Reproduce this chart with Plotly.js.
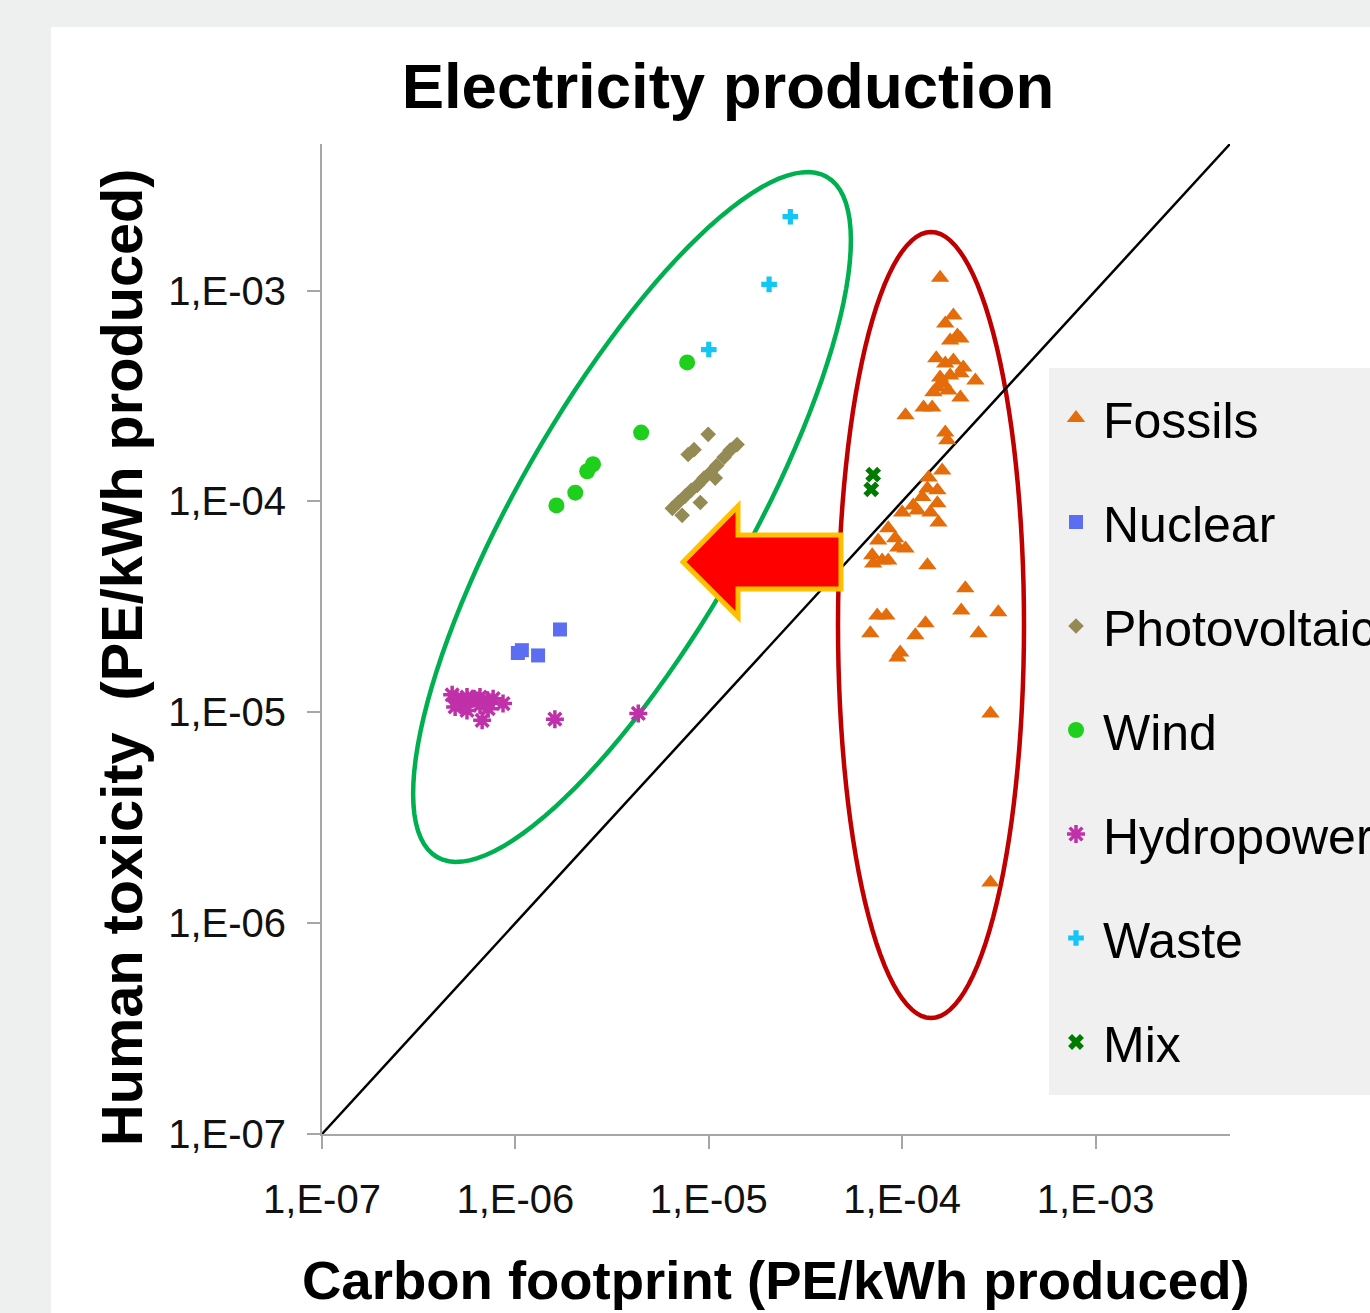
<!DOCTYPE html>
<html><head><meta charset="utf-8">
<script src="https://cdn.plot.ly/plotly-3.0.1.min.js"></script>
<style>html,body{margin:0;padding:0;background:#eef0ef;overflow:hidden}</style>
</head><body><div id="chart" style="width:1370px;height:1313px"></div>
<script>
// ---- data ----
const seriesNames = ['Fossils','Nuclear','Photovoltaic','Wind','Hydropower','Waste','Mix'];

const fossilsX = [1.57e-4,1.84e-4,1.67e-4,1.93e-4,1.77e-4,2.00e-4,1.50e-4,1.67e-4,1.84e-4,2.07e-4,
  1.57e-4,1.77e-4,2.00e-4,2.39e-4,1.52e-4,1.63e-4,1.73e-4,1.45e-4,2.00e-4,1.29e-4,
  1.43e-4,1.04e-4,1.67e-4,1.71e-4,1.61e-4,1.37e-4,1.52e-4,1.35e-4,1.27e-4,1.14e-4,
  1.52e-4,1.40e-4,1.20e-4,1.00e-4,1.54e-4,8.47e-5,9.20e-5,7.51e-5,7.00e-5,7.88e-5,
  8.47e-5,1.04e-4,9.55e-5,7.08e-5,1.35e-4,2.12e-4,2.02e-4,3.14e-4,7.43e-5,8.28e-5,
  1.32e-4,6.84e-5,1.17e-4,2.48e-4,9.77e-5,9.45e-5,2.86e-4,2.86e-4];
const fossilsY = [1.15e-3,7.62e-4,6.98e-4,6.12e-4,5.79e-4,5.93e-4,4.77e-4,4.51e-4,4.66e-4,4.31e-4,
  3.87e-4,3.95e-4,4.05e-4,3.74e-4,3.47e-4,3.62e-4,3.36e-4,3.29e-4,3.11e-4,2.79e-4,
  2.79e-4,2.56e-4,2.12e-4,1.95e-4,1.40e-4,1.30e-4,1.13e-4,1.15e-4,1.05e-4,9.57e-5,
  9.80e-5,8.87e-5,9.06e-5,8.87e-5,7.94e-5,7.45e-5,6.68e-5,6.53e-5,5.55e-5,5.25e-5,
  5.25e-5,5.98e-5,6.05e-5,5.08e-5,4.98e-5,3.87e-5,3.04e-5,2.98e-5,2.88e-5,2.88e-5,
  2.64e-5,2.37e-5,2.32e-5,2.37e-5,1.92e-5,1.82e-5,9.88e-6,1.56e-6];

const nuclearX = [1.70e-6,1.08e-6,1.03e-6,1.31e-6];
const nuclearY = [2.47e-5,1.97e-5,1.91e-5,1.86e-5];

const pvX = [9.93e-6,7.82e-6,8.39e-6,1.40e-5,1.29e-5,1.20e-5,1.10e-5,1.02e-5,9.46e-6,8.71e-6,
  8.11e-6,7.55e-6,6.95e-6,6.48e-6,9.04e-6,7.28e-6,1.08e-5];
const pvY = [2.08e-4,1.67e-4,1.76e-4,1.86e-4,1.75e-4,1.62e-4,1.48e-4,1.37e-4,1.29e-4,1.19e-4,
  1.13e-4,1.06e-4,9.89e-5,9.27e-5,9.89e-5,8.59e-5,1.29e-4];

const windX = [7.73e-6,4.47e-6,2.52e-6,2.35e-6,2.04e-6,1.63e-6];
const windY = [4.56e-4,2.12e-4,1.50e-4,1.39e-4,1.10e-4,9.57e-5];

const hydroX = [4.71e-7,4.99e-7,5.30e-7,4.88e-7,5.62e-7,6.04e-7,6.56e-7,7.14e-7,7.67e-7,5.62e-7,
  6.56e-7,6.73e-7,8.63e-7,7.23e-7,1.60e-6,4.32e-6];
const hydroY = [1.21e-5,1.14e-5,1.09e-5,1.06e-5,1.18e-5,1.16e-5,1.18e-5,1.14e-5,1.16e-5,1.02e-5,
  1.08e-5,9.16e-6,1.10e-5,1.04e-5,9.27e-6,9.88e-6];

const wasteX = [2.64e-5,2.05e-5,1.00e-5];
const wasteY = [2.24e-3,1.07e-3,5.25e-4];

const mixX = [7.08e-5,6.92e-5];
const mixY = [1.34e-4,1.14e-4];

// diagonal y = x reference line
const diagX = [1e-7, 4.955e-3];
const diagY = [1e-7, 4.955e-3];

const tickVals = [1e-7,1e-6,1e-5,1e-4,1e-3];
const tickText = ['1,E-07','1,E-06','1,E-05','1,E-04','1,E-03'];

// ---- layout constants ----
const FONT = 'Liberation Sans, Arial, Helvetica, sans-serif';
const M = {l:322, r:140, t:144, b:179};
const W = 1370 - M.l - M.r, H = 1313 - M.t - M.b;
const px2x = p => (p - M.l) / W;
const py2y = p => (M.t + H - p) / H;

function ellipsePath(cx, cy, a, b, thDeg) {
  const th = thDeg * Math.PI / 180;
  let d = '';
  const n = 120;
  for (let i = 0; i <= n; i++) {
    const t = 2 * Math.PI * i / n;
    const px = cx + a * Math.cos(t) * Math.cos(th) - b * Math.sin(t) * Math.sin(th);
    const py = cy - (a * Math.cos(t) * Math.sin(th) + b * Math.sin(t) * Math.cos(th));
    d += (i === 0 ? 'M' : 'L') + px2x(px).toFixed(5) + ',' + py2y(py).toFixed(5);
  }
  return d + 'Z';
}
function polyPath(pts) {
  return pts.map((p, i) => (i ? 'L' : 'M') + px2x(p[0]).toFixed(5) + ',' + py2y(p[1]).toFixed(5)).join('') + 'Z';
}

function mk(name, x, y, symbol, color, size, group, lineW) {
  return {
    type: 'scatter', mode: 'markers', name: name, x: x, y: y, legendgroup: group,
    marker: {symbol: symbol, color: color, size: size,
      line: lineW ? {color: color, width: lineW} : {width: 0}},
    hoverinfo: 'x+y+name'
  };
}

const traces = [
  {type:'scatter', mode:'lines', x: diagX, y: diagY, line:{color:'#000', width:2.5},
   showlegend:false, hoverinfo:'skip'},
  mk(seriesNames[0], fossilsX, fossilsY, 'triangle-up', '#e46c0a', 16, 'g1'),
  mk(seriesNames[1], nuclearX, nuclearY, 'square', '#5b6ef2', 14, 'g2'),
  mk(seriesNames[2], pvX, pvY, 'diamond', '#948a54', 12, 'g3'),
  mk(seriesNames[3], windX, windY, 'circle', '#1ecf1e', 16, 'g4'),
  mk(seriesNames[4], hydroX, hydroY, 'asterisk-open', '#c030a8', 15, 'g5', 3.5),
  mk(seriesNames[5], wasteX, wasteY, 'cross', '#14c6f5', 13, 'g6'),
  mk(seriesNames[6], mixX, mixY, 'x', '#007a00', 14, 'g7')
];

const axisCommon = {
  type: 'log', range: [-7, -2.305], showline: true, linecolor: '#a6a6a6', linewidth: 2,
  ticks: 'outside', ticklen: 13, tickwidth: 2, tickcolor: '#a6a6a6',
  tickvals: tickVals, ticktext: tickText, showgrid: false, zeroline: false,
  tickfont: {family: FONT, size: 40, color: '#111'}, fixedrange: true
};

const layout = {
  width: 1370, height: 1313,
  margin: Object.assign({autoexpand: false}, M),
  paper_bgcolor: '#eef0ef', plot_bgcolor: 'rgba(0,0,0,0)',
  font: {family: FONT, color: '#000'},
  title: {text: '<b>Electricity production</b>', font: {family: FONT, size: 63.5, color: '#000'},
          xref: 'container', yref: 'container', x: 728/1370, y: 1 - 86/1313, xanchor: 'center', yanchor: 'middle'},
  xaxis: Object.assign({ticklabelstandoff: 16}, axisCommon),
  yaxis: Object.assign({ticklabelstandoff: 13}, axisCommon),
  showlegend: true,
  legend: {x: px2x(1049), y: py2y(379), xanchor: 'left', yanchor: 'top', bgcolor: 'rgba(0,0,0,0)',
           borderwidth: 0, font: {family: FONT, size: 50, color: '#000'}, itemwidth: 44,
           tracegroupgap: 36, traceorder: 'grouped'},
  annotations: [
    {text: '<b>Carbon footprint (PE/kWh produced)</b>', xref: 'paper', yref: 'paper',
     x: px2x(776), y: py2y(1280), xanchor: 'center', yanchor: 'middle', showarrow: false,
     font: {family: FONT, size: 54.5, color: '#000'}},
    {text: '<b>Human toxicity\u00a0 (PE/kWh produced)</b>', xref: 'paper', yref: 'paper',
     x: px2x(122), y: py2y(657), xanchor: 'center', yanchor: 'middle', textangle: -90, showarrow: false,
     font: {family: FONT, size: 57.7, color: '#000'}}
  ],
  shapes: [
    {type: 'rect', xref: 'paper', yref: 'paper', x0: px2x(51), x1: px2x(1400), y0: py2y(1340), y1: py2y(27),
     fillcolor: '#ffffff', line: {width: 0}, layer: 'below'},
    {type: 'rect', xref: 'paper', yref: 'paper', x0: px2x(1049), x1: px2x(1400), y0: py2y(1095), y1: py2y(368),
     fillcolor: '#f0f0f0', line: {width: 0}, layer: 'below'},
    {type: 'path', xref: 'paper', yref: 'paper', path: ellipsePath(632, 517, 392, 115, 60.2),
     line: {color: '#00b050', width: 4.5}, fillcolor: 'rgba(0,0,0,0)', layer: 'below'},
    {type: 'path', xref: 'paper', yref: 'paper', path: ellipsePath(931, 625, 393, 93, 90),
     line: {color: '#c00000', width: 4.5}, fillcolor: 'rgba(0,0,0,0)', layer: 'below'},
    {type: 'path', xref: 'paper', yref: 'paper',
     path: polyPath([[683,562],[738,506],[738,535],[841,535],[841,589],[738,589],[738,617]]),
     line: {color: '#ffc000', width: 5}, fillcolor: '#ff0000', layer: 'above'}
  ]
};

Plotly.newPlot('chart', traces, layout, {displayModeBar: false, staticPlot: true});
</script>
</body></html>
